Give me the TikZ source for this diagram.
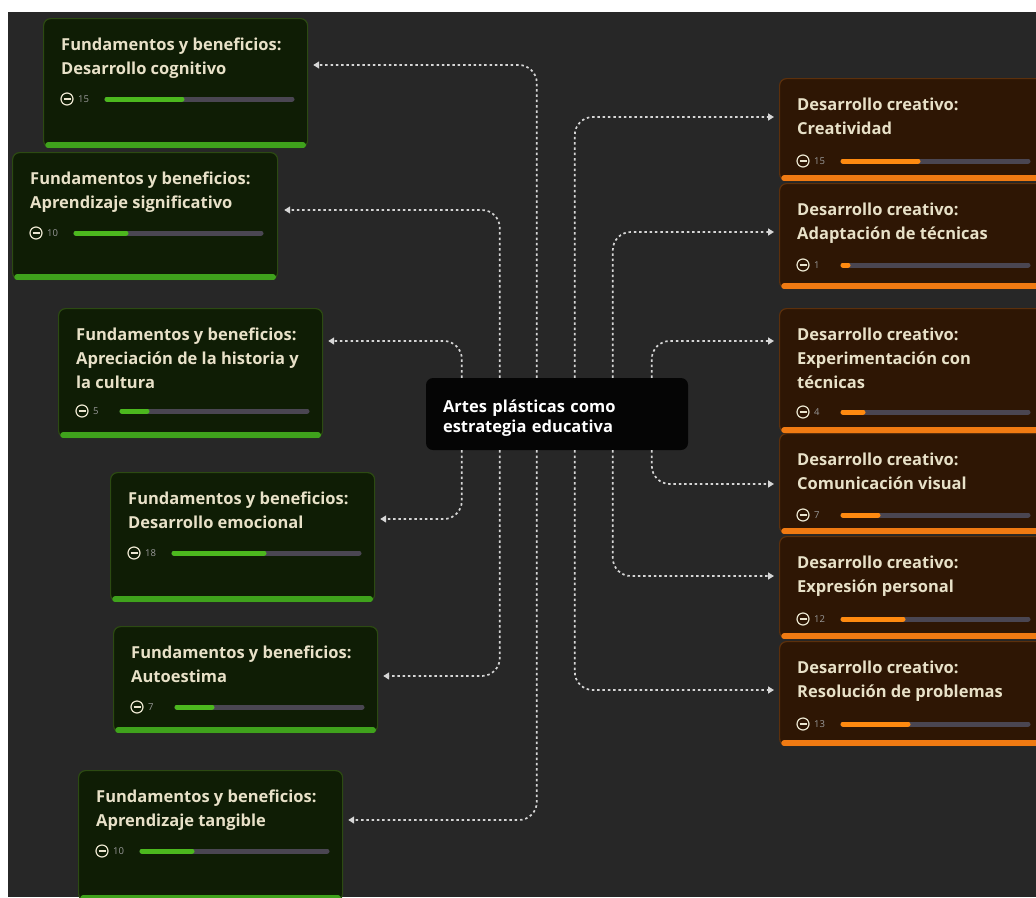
\documentclass[tikz,border=0pt]{standalone}
\usepackage{fontspec}
\setmainfont{Open Sans}
\usetikzlibrary{arrows.meta}

\definecolor{bgc}{HTML}{272727}
\definecolor{greenfill}{HTML}{0F1D05}
\definecolor{greenedge}{HTML}{2C4A12}
\definecolor{greenbar}{HTML}{3FA21C}
\definecolor{greenprog}{HTML}{4CB81E}
\definecolor{orangefill}{HTML}{2E1604}
\definecolor{orangeedge}{HTML}{5C300C}
\definecolor{orangebar}{HTML}{F07A12}
\definecolor{orangeprog}{HTML}{FF8A10}
\definecolor{trackc}{HTML}{4A4652}
\definecolor{textc}{HTML}{E8E1C8}
\definecolor{linkc}{HTML}{D6D6D6}

\tikzset{
  card/.style={draw=#1edge, fill=#1fill, line width=1.2pt, rounded corners=7pt, inner sep=0pt},
  title/.style={text=textc, font=\fontsize{16.5}{24}\selectfont\bfseries, align=left, inner sep=0pt},
  count/.style={text=black!40, font=\fontsize{9.5}{9.5}\selectfont, inner sep=0pt},
  clock/.style={draw=textc!85, line width=1.2pt},
  track/.style={draw=trackc, line width=5pt, line cap=round},
  prog/.style={draw=#1prog, line width=5pt, line cap=round},
  root/.style={fill=black!98, rounded corners=7pt, text=white, align=left,
    font=\fontsize{16.5}{20}\selectfont\bfseries, minimum width=262pt, minimum height=72pt,
    text width=228pt, inner xsep=17pt},
  link/.style={draw=linkc, line width=1.7pt, dash pattern=on 2.5pt off 2.8pt,
    rounded corners=18pt, -{Triangle[length=6pt,width=7pt]}}
}

% [colour](name)(x,y)(w,h)(row){title}{count}
\def\card[#1](#2)(#3,#4)(#5,#6)(#7)#8#9{%
  \node[card=#1, minimum width=#5pt, minimum height=#6pt, anchor=north west] (#2) at (#3,#4) {};
  \draw[line width=5.5pt, line cap=round, color=#1bar] ([shift={(5,-3)}]#2.south west) -- ([shift={(-5,-3)}]#2.south east);
  \node[title, anchor=north west] (#2-t) at ([shift={(18,20)}]#2.north west) {#8};
  \draw[clock] ([shift={(24,#7)}]#2.north west) circle (6pt);
  \draw[clock] ([shift={(20.5,#7)}]#2.north west) -- ++(7,0);
  \node[count, anchor=west] (#2-n) at ([shift={(35,#7)}]#2.north west) {#9};
  \draw[track] ([shift={(64,#7)}]#2.north west) -- ++(185,0);
  \draw[prog=#1] ([shift={(64,#7)}]#2.north west) -- ++({185*#9/37},0);
}

\begin{document}
\begin{tikzpicture}[x=1pt, y=-1pt]
  \useasboundingbox (0,0) rectangle (1036,897);
  \fill[white] (0,0) rectangle (1036,897);
  \fill[bgc] (8,12) rectangle (1036,897);

  %%%%% cards left %%%%%
  \card[green](cog)(43,18)(264,129)(81){Fundamentos y beneficios:\\Desarrollo cognitivo}{15}
  \card[green](sig)(12,152)(265,127)(81){Fundamentos y beneficios:\\Aprendizaje significativo}{10}
  \card[green](hist)(58,308)(264,129)(103){Fundamentos y beneficios:\\Apreciación de la historia y\\la cultura}{5}
  \card[green](emo)(110,472)(264,129)(81){Fundamentos y beneficios:\\Desarrollo emocional}{18}
  \card[green](auto)(113,626)(264,106)(81){Fundamentos y beneficios:\\Autoestima}{7}
  \card[green](tang)(78,770)(264,130)(81){Fundamentos y beneficios:\\Aprendizaje tangible}{10}

  %%%%% cards right %%%%%
  \card[orange](crea)(779,78)(270,102)(83){Desarrollo creativo:\\Creatividad}{15}
  \card[orange](adap)(779,183)(270,105)(82){Desarrollo creativo:\\Adaptación de técnicas}{1}
  \card[orange](expe)(779,308)(270,124)(104){Desarrollo creativo:\\Experimentación con\\técnicas}{4}
  \card[orange](comu)(779,433)(270,100)(82){Desarrollo creativo:\\Comunicación visual}{7}
  \card[orange](expr)(779,536)(270,102)(83){Desarrollo creativo:\\Expresión personal}{12}
  \card[orange](reso)(779,641)(270,104)(83){Desarrollo creativo:\\Resolución de problemas}{13}

  %%%%% centre %%%%%
  \node[root] (root) at (557,414) {\rule{0pt}{20pt}Artes plásticas como\\estrategia educativa};

  %%%%% links %%%%%
  \draw[link] ([xshift=111pt]root.north west) |- ([shift={(5,47)}]cog.north east);
  \draw[link] ([xshift=74pt]root.north west) |- ([shift={(6,58)}]sig.north east);
  \draw[link] ([xshift=36pt]root.north west) |- ([shift={(5,33)}]hist.north east);
  \draw[link] ([xshift=36pt]root.south west) |- ([shift={(5,47)}]emo.north east);
  \draw[link] ([xshift=74pt]root.south west) |- ([shift={(5,50)}]auto.north east);
  \draw[link] ([xshift=111pt]root.south west) |- ([shift={(5,50)}]tang.north east);

  \draw[link] ([xshift=149pt]root.north west) |- ([shift={(-5,39)}]crea.north west);
  \draw[link] ([xshift=187pt]root.north west) |- ([shift={(-5,49)}]adap.north west);
  \draw[link] ([xshift=226pt]root.north west) |- ([shift={(-5,33)}]expe.north west);
  \draw[link] ([xshift=226pt]root.south west) |- ([shift={(-5,51)}]comu.north west);
  \draw[link] ([xshift=187pt]root.south west) |- ([shift={(-5,40)}]expr.north west);
  \draw[link] ([xshift=149pt]root.south west) |- ([shift={(-5,49)}]reso.north west);
\end{tikzpicture}
\end{document}
